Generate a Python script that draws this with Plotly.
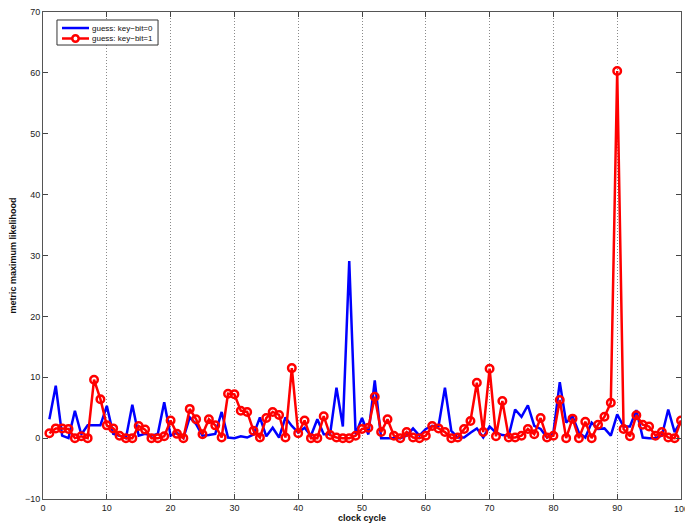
import plotly.graph_objects as go

cycles = list(range(1, 101))

key_bit_0 = [3.1, 8.6, 0.4, 0.0, 4.5, 0.6, 2.1, 2.1, 2.1, 5.3,
             0.7, 0.4, 0.0, 5.5, 0.4, 0.7, 0.4, 0.7, 5.9, 0.4,
             0.9, 0.0, 3.4, 2.3, 0.4, 0.5, 0.7, 4.3, 0.1, 0.0,
             0.3, 0.1, 0.6, 3.4, 0.3, 1.7, 0.1, 3.4, 2.0, 0.9,
             1.7, 0.4, 3.1, 0.65, 0.65, 8.3, 1.9, 29.1, 0.65, 3.3,
             0.6, 9.5, 0.0, 0.0, 0.0, 0.0, 0.4, 1.6, 0.4, 1.5,
             2.0, 2.0, 8.3, 1.2, 0.1, 0.1, 0.9, 1.6, 0.1, 1.9,
             0.9, 0.5, 0.4, 4.7, 3.5, 5.4, 2.0, 1.5, 0.1, 0.9,
             9.2, 2.55, 3.6, 0.9, 0.1, 2.55, 1.5, 1.6, 0.4, 3.9,
             1.9, 1.9, 4.6, 0.1, 0.0, 0.0, 0.4, 4.7, 1.0, 2.8]

key_bit_1 = [0.8, 1.6, 1.6, 1.5, 0.0, 0.3, 0.0, 9.6, 6.4, 2.1,
             1.6, 0.4, 0.0, 0.0, 2.0, 1.4, 0.0, 0.0, 0.3, 2.9,
             0.7, 0.0, 4.8, 3.1, 0.65, 3.1, 2.1, 0.1, 7.3, 7.2,
             4.5, 4.3, 1.2, 0.1, 3.3, 4.3, 3.8, 0.1, 11.5, 0.8,
             2.9, 0.0, 0.0, 3.6, 0.5, 0.1, 0.0, 0.0, 0.4, 1.5,
             1.7, 6.8, 1.0, 3.1, 0.4, 0.0, 1.0, 0.1, 0.0, 0.4,
             2.0, 1.6, 1.0, 0.0, 0.1, 1.5, 2.8, 9.1, 1.0, 11.4,
             0.3, 6.1, 0.1, 0.1, 0.4, 1.5, 0.65, 3.3, 0.1, 0.4,
             6.25, 0.0, 3.2, 0.0, 2.7, 0.0, 2.2, 3.5, 5.8, 60.3,
             1.5, 0.3, 3.75, 2.2, 1.9, 0.4, 1.0, 0.1, 0.0, 2.9]

series_names = ["guess: key\u2212bit=0", "guess: key\u2212bit=1"]
series_colors = ["#0000ff", "#ff0000"]

x_ticks = list(range(0, 101, 10))
y_ticks = list(range(-10, 71, 10))

FONT = "Liberation Sans, Arial, sans-serif"

fig = go.Figure()
fig.add_trace(go.Scatter(
    x=cycles, y=key_bit_0, mode="lines", name=series_names[0],
    line=dict(color=series_colors[0], width=2.5), showlegend=False,
))
fig.add_trace(go.Scatter(
    x=cycles, y=key_bit_1, mode="lines+markers", name=series_names[1],
    line=dict(color=series_colors[1], width=2.5), showlegend=False,
    marker=dict(symbol="circle-open", size=7.5, color=series_colors[1],
                line=dict(color=series_colors[1], width=2.5)),
))

axis_font = dict(family=FONT, size=9, color="#222")

fig.update_layout(
    width=685, height=525,
    margin=dict(l=43, r=4, t=12, b=26),
    paper_bgcolor="white", plot_bgcolor="white",
    font=axis_font,
    showlegend=False,
    xaxis=dict(
        range=[0, 100], tickvals=x_ticks, ticks="inside", ticklen=5,
        tickcolor="#444", showline=True, linecolor="#555", linewidth=1,
        mirror="ticks", zeroline=False,
        showgrid=True, gridcolor="#8a8a8a", griddash="1px,2px", gridwidth=1,
        title=dict(text="<b>clock cycle</b>", standoff=2,
                   font=dict(family=FONT, size=9, color="#111")),
        tickfont=axis_font,
    ),
    yaxis=dict(
        range=[-10, 70], tickvals=y_ticks, ticks="inside", ticklen=5,
        tickcolor="#444", showline=True, linecolor="#555", linewidth=1,
        mirror="ticks", zeroline=False, showgrid=False,
        title=dict(text="<b>metric maximum likelihood</b>", standoff=6,
                   font=dict(family=FONT, size=9, color="#111")),
        tickfont=axis_font,
    ),
)

# right-most x tick label, at the figure edge (clipped as in the original)
fig.add_annotation(x=x_ticks[-1], y=0, xref="x", yref="paper",
                   text=str(x_ticks[-1]), showarrow=False,
                   xanchor="center", yanchor="top", yshift=-3,
                   font=axis_font)

# compact MATLAB-style legend box (paper coords of the plot area)
L_X0, L_X1, L_Y0, L_Y1 = 0.0219, 0.1803, 0.9322, 0.9836
row_y = [0.9671, 0.9456]
line_x0, line_x1, mark_x, text_x = 0.0298, 0.0721, 0.0509, 0.0737
fig.add_shape(type="rect", xref="paper", yref="paper",
              x0=L_X0, x1=L_X1, y0=L_Y0, y1=L_Y1,
              line=dict(color="#333", width=1), fillcolor="white", layer="above")
for i, (name, col) in enumerate(zip(series_names, series_colors)):
    fig.add_shape(type="line", xref="paper", yref="paper",
                  x0=line_x0, x1=line_x1, y0=row_y[i], y1=row_y[i],
                  line=dict(color=col, width=2.5), layer="above")
    if i == 1:
        fig.add_shape(type="circle", xref="paper", yref="paper",
                      xsizemode="pixel", ysizemode="pixel",
                      xanchor=mark_x, yanchor=row_y[i],
                      x0=-3.2, x1=3.2, y0=-3.2, y1=3.2,
                      line=dict(color=col, width=2.5), fillcolor="white",
                      layer="above")
    fig.add_annotation(x=text_x, y=row_y[i], xref="paper", yref="paper",
                       text=name, showarrow=False, xanchor="left",
                       yanchor="middle",
                       font=dict(family=FONT, size=8, color="#111"))

fig.write_html("out.html")
